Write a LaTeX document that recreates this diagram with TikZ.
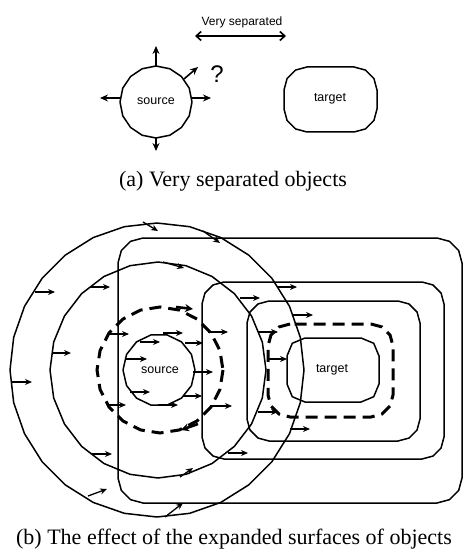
\documentclass[tikz,border=0pt]{standalone}
\usepackage{fontspec}
\setmainfont{Liberation Serif}
\setsansfont{Liberation Sans}
\usetikzlibrary{arrows.meta}
% polygonal circle: style, cx, cy, r, samples
\newcommand\pcirc[5]{\draw[#1] plot[samples=#5, domain=0:360] ({#2+#4*cos(\x)},{#3+#4*sin(\x)}) -- cycle;}
% faceted rounded rectangle: style, x1, y1, x2, y2, r, samples per corner
\newcommand\frect[7]{\draw[#1] plot[samples=#7,domain=90:180] ({#2+#6+#6*cos(\x)},{#3+#6-#6*sin(\x)})
  -- plot[samples=#7,domain=180:270] ({#2+#6+#6*cos(\x)},{#5-#6-#6*sin(\x)})
  -- plot[samples=#7,domain=270:360] ({#4-#6+#6*cos(\x)},{#5-#6-#6*sin(\x)})
  -- plot[samples=#7,domain=0:90] ({#4-#6+#6*cos(\x)},{#3+#6-#6*sin(\x)}) -- cycle;}
\begin{document}
\begin{tikzpicture}[x=1pt,y=-1pt,
  ln/.style={line width=1.5pt, line join=round},
  dsh/.style={line width=3pt, dash pattern=on 12pt off 7pt},
  arr/.style={line width=1.3pt, -{Stealth[length=7pt,width=6pt]}},
  bigarr/.style={line width=1.6pt, -{Stealth[length=8pt,width=7pt]}},
  tarr/.style={line width=2.6pt, -{Stealth[length=8pt,width=8pt]}},
  lbl/.style={font=\sffamily\fontsize{12.5}{14}\selectfont, inner sep=0pt},
  captxt/.style={font=\fontsize{22}{26}\selectfont, inner sep=0pt}]
\useasboundingbox (0,0) rectangle (463,556);

% ---------- (a) ----------
\node[lbl, font=\sffamily\fontsize{12}{14}\selectfont] (vs) at (242,22) {Very separated};
\coordinate (vsl) at (195,36);
\coordinate (vsr) at (286,36);
\draw[line width=1.6pt, {Straight Barb[length=5pt,width=9pt]}-{Straight Barb[length=5pt,width=9pt]}] (vsl) -- (vsr);

\pcirc{ln}{156}{102}{36}{17}
\node[lbl] (s1) at (156,101) {source};
\draw[bigarr] (156,66) -- (156,46);
\draw[bigarr] (156,138) -- (156,151);
\draw[bigarr] (120,98) -- (100,98);
\draw[bigarr] (192,98) -- (211,98);
\draw[bigarr] (184,79) -- (198,67);
\node[font=\sffamily\fontsize{24}{28}\selectfont, inner sep=0pt] (q) at (217,74) {?};

\frect{ln}{284}{67}{377}{132}{23}{4}
\node[lbl] (t1) at (330,99) {target};

\node[captxt] (capa) at (233,181) {(a) Very separated objects};

% ---------- (b) ----------
\pcirc{ln}{157}{370}{147}{29}
\pcirc{ln}{158}{370}{108}{25}
\pcirc{dsh}{160}{370}{63}{21}
\pcirc{ln}{159}{370}{36}{15}
\frect{ln}{118}{238}{462}{503}{25}{4}
\frect{ln}{202}{282}{444}{459}{22}{4}
\frect{ln}{247}{301}{420}{441}{22}{4}
\frect{dsh}{268}{324}{393}{417}{22}{4}
\frect{ln}{287}{338}{379}{402}{18}{3}
\node[lbl] (s2) at (160,370) {source};
\node[lbl] (t2) at (332,370) {target};

% tangential arrows
\draw[arr] (143,222) -- (158,231);
\draw[arr] (203,231) -- (220,243);
\draw[arr] (163,262) -- (184,268);
\draw[arr] (180,477) -- (193,468);
\draw[arr] (165,517) -- (183,503);
\draw[arr] (88,496) -- (107,489);
\draw[tarr] (176,307) -- (193,309);
\draw[tarr] (198,424) -- (181,430);

% horizontal arrows
\foreach \xa/\xb/\yy in {35/55/292, 90/110/287, 53/71/353, 12/32/382, 92/112/454,
  110/129/334, 126/147/359, 130/150/392, 108/126/405, 140/160/342, 163/183/333,
  185/203/343, 193/213/372, 183/202/396, 158/178/405, 208/228/332, 210/232/406,
  240/260/298, 278/297/287, 258/278/332, 293/313/315, 268/287/359, 258/278/412,
  290/310/429, 228/248/453}
  \draw[arr] (\xa,\yy) -- (\xb,\yy);

\node[captxt] (capb) at (234,539) {(b) The effect of the expanded surfaces of objects};
\end{tikzpicture}
\end{document}
